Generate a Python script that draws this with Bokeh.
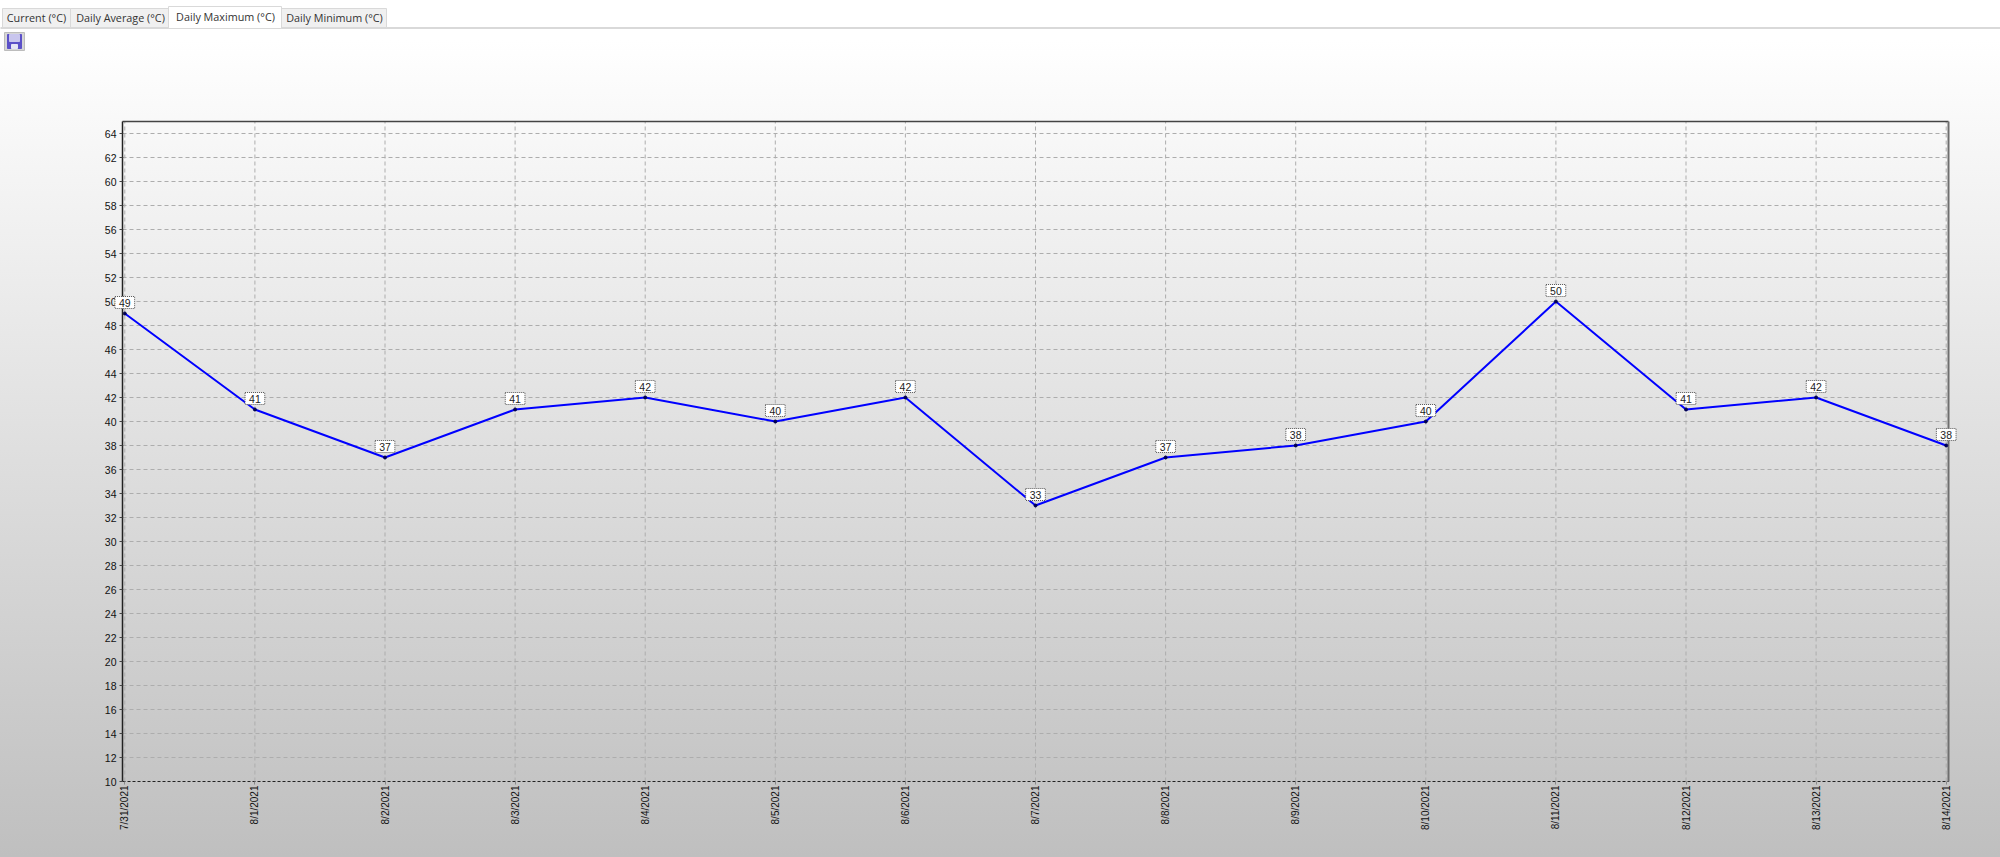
from bokeh.plotting import figure
from bokeh.models import ColumnDataSource, FixedTicker, Label, LinearAxis, Range1d
from bokeh.core.properties import value
from bokeh.embed import file_html
from bokeh.resources import INLINE

dates = ["7/31/2021", "8/1/2021", "8/2/2021", "8/3/2021", "8/4/2021", "8/5/2021", "8/6/2021", "8/7/2021",
         "8/8/2021", "8/9/2021", "8/10/2021", "8/11/2021", "8/12/2021", "8/13/2021", "8/14/2021"]
daily_max = [49, 41, 37, 41, 42, 40, 42, 33, 37, 38, 40, 50, 41, 42, 38]
y_ticks = [10, 12, 14, 16, 18, 20, 22, 24, 26, 28, 30, 32, 34, 36, 38, 40, 42, 44, 46, 48, 50, 52, 54, 56, 58, 60, 62, 64]
tabs = ["Current (°C)", "Daily Average (°C)", "Daily Maximum (°C)", "Daily Minimum (°C)"]

W, H = 2000, 857
L, R, T, B = 122, 1948, 121, 781
PX_DAY = (1945.7 - 124.3) / 14


def hx(px):
    return (px - 124.3) / PX_DAY


def hy(py):
    return 10 + (B - py) / 12


x0, x1, y1 = hx(L), hx(R), hy(T)
idx = list(range(len(dates)))
source = ColumnDataSource(dict(x=idx, y=daily_max))

p = figure(width=W, height=H, output_backend="svg", toolbar_location=None,
           x_range=Range1d(hx(0), hx(W)), y_range=Range1d(hy(H), hy(0)),
           x_axis_location=None, y_axis_location=None, min_border=0,
           background_fill_alpha=0, border_fill_alpha=0, outline_line_color=None, margin=(0, 0, 0, 0))
p.styles = {"background": "linear-gradient(to bottom, #ffffff 0px, #ffffff 40px, #bfbfbf 857px)"}

FONT = "Liberation Sans"
xaxis = LinearAxis(ticker=FixedTicker(ticks=idx), fixed_location=10, bounds=(x0, x1))
xaxis.major_label_overrides = {i: d for i, d in zip(idx, dates)}
xaxis.major_label_orientation = 3.14159265 / 2
xaxis.major_label_text_font = FONT
xaxis.major_label_text_font_size = "10px"
xaxis.major_label_text_color = "#111111"
xaxis.major_label_standoff = 1
xaxis.major_tick_out = 3
xaxis.major_tick_in = 0
xaxis.minor_tick_line_color = None
xaxis.axis_line_color = "#222222"
xaxis.axis_line_dash = "3 2"
xaxis.major_tick_line_color = "#888888"
p.add_layout(xaxis, "below")

yaxis = LinearAxis(ticker=FixedTicker(ticks=y_ticks), fixed_location=x0, bounds=(10, y1))
yaxis.major_label_text_font = FONT
yaxis.major_label_text_font_size = "10.5px"
yaxis.major_label_text_color = "#111111"
yaxis.major_label_standoff = 3
yaxis.major_tick_out = 3
yaxis.major_tick_in = 0
yaxis.minor_tick_line_color = None
yaxis.axis_line_color = "#222222"
yaxis.axis_line_width = 1.5
yaxis.major_tick_line_color = "#444444"
p.add_layout(yaxis, "left")

p.grid.visible = False
p.segment(x0=idx, x1=idx, y0=[10] * len(idx), y1=[y1] * len(idx), line_color="#adadad", line_dash="4 3", line_width=1)
p.segment(x0=[x0] * len(y_ticks[1:]), x1=[x1] * len(y_ticks[1:]), y0=y_ticks[1:], y1=y_ticks[1:],
          line_color="#adadad", line_dash="4 3", line_width=1)
p.segment(x0=[x0], x1=[x1], y0=[y1], y1=[y1], line_color="#444444", line_width=1.5)
p.segment(x0=[x1], x1=[x1], y0=[10], y1=[y1], line_color="#6e6e6e", line_width=2)

p.line("x", "y", source=source, line_color="#0000ff", line_width=2)
p.scatter("x", "y", source=source, size=3, color="#000050")

for i, v in zip(idx, daily_max):
    p.add_layout(Label(x=i, y=v, text=str(v), y_offset=11, text_align="center", text_baseline="middle",
                       text_font=FONT, text_font_size="10.5px", text_color="#222222",
                       background_fill_color="#ffffff", border_line_color="#555555",
                       border_line_dash="1 1", border_line_width=1, padding=(4, 2)))


def quads(l, r, t, b, **kw):
    p.quad(left=[hx(v) for v in l], right=[hx(v) for v in r], top=[hy(v) for v in t], bottom=[hy(v) for v in b], **kw)


quads([0], [W], [27], [28], color="#d9d9d9")
quads([2, 70, 281, 168], [70, 168, 386, 281], [8, 8, 8, 6], [27, 27, 27, 28],
      fill_color=["#f0f0f0", "#f0f0f0", "#f0f0f0", "#ffffff"], line_color="#d9d9d9")
p.text(x=[hx(v) for v in [36, 120, 225, 334]], y=[hy(v) for v in [17, 17, 16, 17]], text=tabs,
       text_align="center", text_baseline="middle", text_font=value("Open Sans"), text_font_size="10.8px",
       text_color="#333333")
quads([4], [24], [32], [50], fill_color="#d6d6d6", line_color="#bcbcbc")
quads([7], [21], [34], [48], color="#5b50c8")
quads([9], [19], [34], [41], color="#c9c6ee")
quads([11], [17], [44], [48], color="#e6e6f5")

open("out.html", "w").write(file_html(p, INLINE))
